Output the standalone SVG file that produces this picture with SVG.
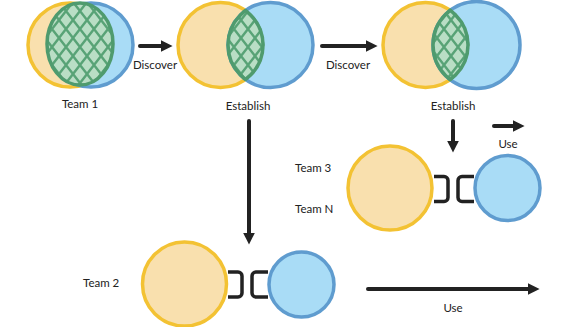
<svg xmlns="http://www.w3.org/2000/svg" width="566" height="327" viewBox="0 0 566 327">
<style>
.y{fill:#f9e0ae;stroke:#f3c233;stroke-width:3.5}
.b{fill:#a9dcf6;stroke:#5f9ccf;stroke-width:3.5}
.g{fill:url(#hatch);stroke:#4f9b6e;stroke-width:3.5}
.gs{fill:none;stroke:#4f9b6e;stroke-width:3.5}
.a{stroke:#222;stroke-width:4;fill:none;stroke-linecap:round}
.br{stroke:#222;stroke-width:3.5;fill:none}
text{font-family:Lato,"Open Sans","Liberation Sans",sans-serif;font-size:11.5px;fill:#222}
.m{text-anchor:middle}
</style>
<defs>
<pattern id="hatch" patternUnits="userSpaceOnUse" width="14" height="18" x="3" y="2">
<rect width="14" height="18" fill="#b9dec5"/>
<path d="M0,0 L14,18 M14,0 L0,18" stroke="#58a376" stroke-width="2.4"/>
</pattern>
<marker id="ah" viewBox="0 0 10 10" refX="2" refY="5" markerWidth="3" markerHeight="3.2" orient="auto" markerUnits="strokeWidth">
<path d="M0,0 L10,5 L0,10 z" fill="#222"/>
</marker>
<clipPath id="cy2"><circle cx="220.5" cy="45" r="44"/></clipPath>
<clipPath id="cb2"><circle cx="270.5" cy="45" r="44"/></clipPath>
<clipPath id="cy3"><circle cx="425.5" cy="45" r="44"/></clipPath>
<clipPath id="cb3"><circle cx="476.5" cy="45" r="45"/></clipPath>
</defs>

<g id="team1">
<circle class="y" cx="70" cy="45" r="42"/>
<circle class="b" cx="91" cy="45" r="42"/>
<ellipse class="g" cx="80" cy="44" rx="33" ry="41"/>
<text class="m" x="80" y="108">Team 1</text>
</g>

<g id="establish1">
<circle class="y" cx="220.5" cy="45" r="42.5"/>
<circle class="b" cx="270.5" cy="45" r="42.5"/>
<circle cx="270.5" cy="45" r="42.5" fill="url(#hatch)" clip-path="url(#cy2)"/>
<circle class="gs" cx="270.5" cy="45" r="42.5" clip-path="url(#cy2)"/>
<circle class="gs" cx="220.5" cy="45" r="42.5" clip-path="url(#cb2)"/>
<text class="m" x="248" y="110">Establish</text>
</g>

<g id="establish2">
<circle class="y" cx="425.5" cy="45" r="42.5"/>
<circle class="b" cx="476.5" cy="45" r="43.5"/>
<circle cx="476.5" cy="45" r="43.5" fill="url(#hatch)" clip-path="url(#cy3)"/>
<circle class="gs" cx="476.5" cy="45" r="43.5" clip-path="url(#cy3)"/>
<circle class="gs" cx="425.5" cy="45" r="42.5" clip-path="url(#cb3)"/>
<text class="m" x="453" y="110">Establish</text>
</g>

<g id="team3">
<circle class="y" cx="390" cy="188" r="42"/>
<circle class="b" cx="507.5" cy="188" r="32.5"/>
<path class="br" d="M434,176.5 h10 a4,4 0 0 1 4,4 v17 a4,4 0 0 1 -4,4 h-10"/>
<path class="br" d="M474,176.5 h-12 a4,4 0 0 0 -4,4 v17 a4,4 0 0 0 4,4 h12"/>
<text x="295" y="172">Team 3</text>
<text x="295" y="213">Team N</text>
</g>

<g id="team2">
<circle class="y" cx="184.5" cy="284" r="42"/>
<circle class="b" cx="301.5" cy="284.5" r="32.5"/>
<path class="br" d="M228,272 h10 a4,4 0 0 1 4,4 v17 a4,4 0 0 1 -4,4 h-10"/>
<path class="br" d="M268,272 h-12 a4,4 0 0 0 -4,4 v17 a4,4 0 0 0 4,4 h12"/>
<text x="83" y="287">Team 2</text>
</g>

<g id="connectors">
<line class="a" x1="140" y1="46" x2="163" y2="46" marker-end="url(#ah)"/>
<text class="m" x="155" y="69">Discover</text>
<line class="a" x1="322" y1="46" x2="368" y2="46" marker-end="url(#ah)"/>
<text class="m" x="348" y="69">Discover</text>
<line class="a" x1="249" y1="121" x2="249" y2="235" marker-end="url(#ah)"/>
<line class="a" x1="453" y1="121" x2="453" y2="143" marker-end="url(#ah)"/>
<line class="a" x1="494" y1="126" x2="515" y2="126" marker-end="url(#ah)"/>
<text class="m" x="508" y="148">Use</text>
<line class="a" x1="368" y1="289" x2="530" y2="289" marker-end="url(#ah)"/>
<text class="m" x="453" y="312">Use</text>
</g>
</svg>
